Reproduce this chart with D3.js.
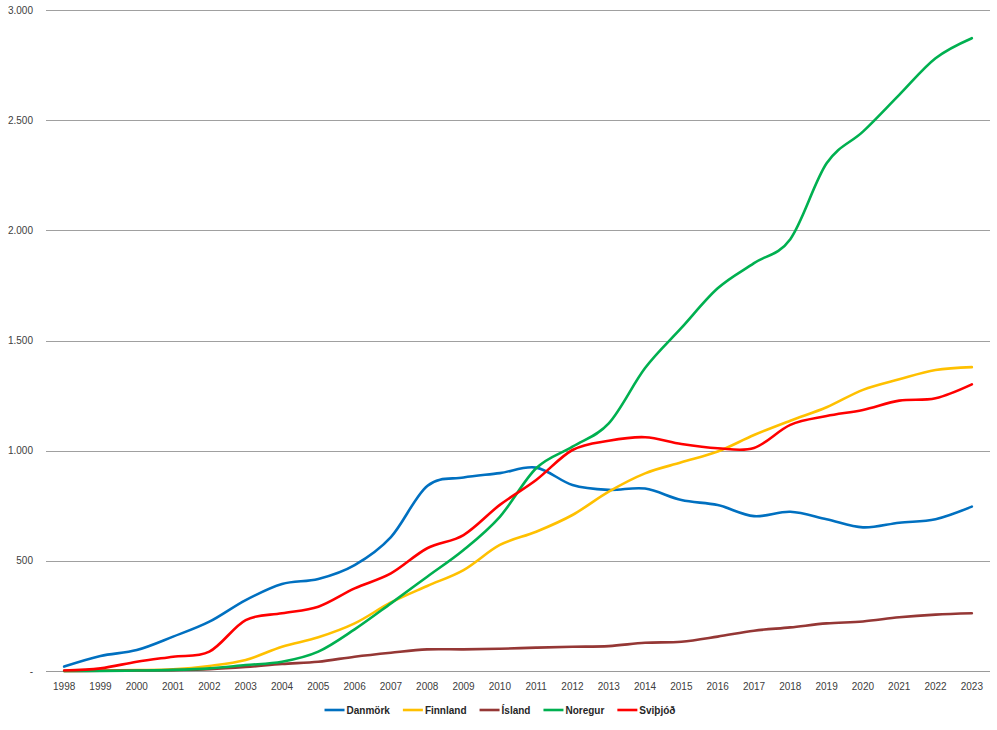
<!DOCTYPE html>
<html>
<head>
<meta charset="utf-8">
<script src="https://cdn.jsdelivr.net/npm/d3@7"></script>
<style>
  html, body { margin: 0; padding: 0; background: #fff; }
  svg { display: block; font-family: "Liberation Sans", Arial, sans-serif; }
</style>
</head>
<body>
<svg id="chart" width="997" height="730"></svg>
<script>
const years = ["1998","1999","2000","2001","2002","2003","2004","2005","2006","2007","2008","2009","2010","2011","2012","2013","2014","2015","2016","2017","2018","2019","2020","2021","2022","2023"];

const danmork  = [20, 68, 95, 156, 224, 322, 395, 418, 481, 608, 840, 878, 898, 923, 844, 822, 828, 776, 753, 703, 723, 689, 652, 673, 689, 746];
const finnland = [0, 2, 4, 8, 23, 50, 110, 153, 216, 311, 386, 458, 572, 632, 708, 814, 897, 947, 996, 1071, 1136, 1197, 1276, 1324, 1366, 1379];
const island   = [0, 1, 2, 4, 8, 18, 32, 42, 65, 83, 98, 98, 101, 106, 110, 113, 128, 133, 156, 183, 198, 216, 225, 244, 256, 262];
const noregur  = [0, 0, 2, 5, 12, 27, 42, 88, 189, 307, 428, 549, 700, 920, 1018, 1124, 1375, 1557, 1737, 1851, 1960, 2304, 2448, 2615, 2781, 2872];
const svithjod = [2, 12, 42, 65, 88, 231, 262, 292, 375, 443, 557, 617, 754, 867, 1003, 1045, 1061, 1030, 1011, 1012, 1117, 1157, 1185, 1227, 1238, 1301];

const seriesNames  = ["Danmörk", "Finnland", "Ísland", "Noregur", "Sviþjóð"];
const seriesValues = [danmork, finnland, island, noregur, svithjod];
const seriesColors = ["#0070C0", "#FFC000", "#953735", "#00B050", "#FF0000"];
const yTicks = [0, 500, 1000, 1500, 2000, 2500, 3000];

const svg = d3.select("#chart");
const margin = { left: 46, right: 7, top: 10, bottom: 59 };
const W = 997, H = 730;

const x = d3.scaleBand().domain(years).range([margin.left, W - margin.right]);
const y = d3.scaleLinear().domain([0, 3000]).range([H - margin.bottom, margin.top]);

const loc = d3.formatLocale({ decimal: ",", thousands: ".", grouping: [3], currency: ["", ""] });
const fmt = v => v === 0 ? "-" : loc.format(",.3~f")(v).replace(/,.*$/, "");

// gridlines
svg.append("g")
  .selectAll("line")
  .data(yTicks)
  .join("line")
  .attr("x1", margin.left)
  .attr("x2", W - margin.right)
  .attr("y1", d => Math.round(y(d)) + 0.5)
  .attr("y2", d => Math.round(y(d)) + 0.5)
  .attr("stroke", d => d === 0 ? "#9a9a9a" : "#a0a0a0")
  .attr("stroke-width", 1.2);

// y labels
svg.append("g")
  .selectAll("text")
  .data(yTicks)
  .join("text")
  .attr("x", 33)
  .attr("y", d => y(d))
  .attr("dy", "0.35em")
  .attr("text-anchor", "end")
  .attr("font-size", 10)
  .attr("fill", "#404040")
  .text(d => fmt(d));

// x labels
svg.append("g")
  .selectAll("text")
  .data(years)
  .join("text")
  .attr("x", d => x(d) + x.bandwidth() / 2)
  .attr("y", 690)
  .attr("text-anchor", "middle")
  .attr("font-size", 10)
  .attr("fill", "#404040")
  .text(d => d);

// lines
const line = d3.line()
  .x((d, i) => x(years[i]) + x.bandwidth() / 2)
  .y(d => y(d))
  .curve(d3.curveCatmullRom.alpha(0));

svg.append("g")
  .selectAll("path")
  .data(seriesValues)
  .join("path")
  .attr("d", d => line(d))
  .attr("fill", "none")
  .attr("stroke", (d, i) => seriesColors[i])
  .attr("stroke-width", 2.6)
  .attr("stroke-linejoin", "round")
  .attr("stroke-linecap", "round");

// legend
const legend = svg.append("g");
const items = legend.selectAll("g")
  .data(seriesNames)
  .join("g");
items.append("line")
  .attr("x1", 0).attr("x2", 20)
  .attr("y1", 0).attr("y2", 0)
  .attr("stroke", (d, i) => seriesColors[i])
  .attr("stroke-width", 2.6);
items.append("text")
  .attr("x", 22)
  .attr("y", 0)
  .attr("dy", "0.35em")
  .attr("font-size", 10)
  .attr("font-weight", "bold")
  .attr("fill", "#262626")
  .text(d => d);

let widths = [];
items.each(function () {
  widths.push(22 + d3.select(this).select("text").node().getComputedTextLength());
});
const gap = 13;
const total = d3.sum(widths) + gap * (widths.length - 1);
let cx = 500 - total / 2;
items.attr("transform", (d, i) => {
  const t = `translate(${cx},710)`;
  cx += widths[i] + gap;
  return t;
});
</script>
</body>
</html>
